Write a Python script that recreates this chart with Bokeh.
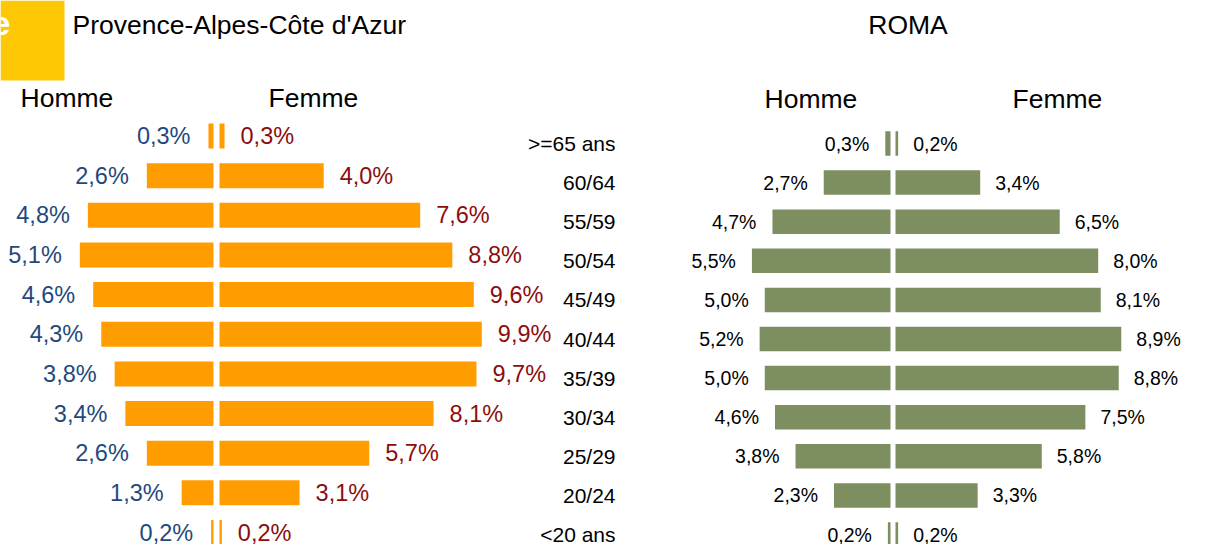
from bokeh.plotting import figure
from bokeh.models import Range1d, ColumnDataSource, Label, Span, BoxAnnotation
from bokeh.core.properties import value
from bokeh.embed import file_html
from bokeh.resources import INLINE

# ---------------- data ----------------
ages = [">=65 ans", "60/64", "55/59", "50/54", "45/49", "40/44",
        "35/39", "30/34", "25/29", "20/24", "<20 ans"]
paca_homme = [0.3, 2.6, 4.8, 5.1, 4.6, 4.3, 3.8, 3.4, 2.6, 1.3, 0.2]
paca_femme = [0.3, 4.0, 7.6, 8.8, 9.6, 9.9, 9.7, 8.1, 5.7, 3.1, 0.2]
roma_homme = [0.3, 2.7, 4.7, 5.5, 5.0, 5.2, 5.0, 4.6, 3.8, 2.3, 0.2]
roma_femme = [0.2, 3.4, 6.5, 8.0, 8.1, 8.9, 8.8, 7.5, 5.8, 3.3, 0.2]
title_left = "Provence-Alpes-Côte d'Azur"
title_right = "ROMA"

# ---------------- layout ----------------
W, H = 1207, 544          # figure size
X0, Y0 = 0, 0             # reference pixel of figure origin
FNAME = "Liberation Sans"
FONT = value(FNAME)

ORANGE = "#FF9C00"
GREEN = "#7D8F60"
BLUE = "#1F497D"
RED = "#8B0E0E"


def pct_range(zero_ref, px_per_pct):
    zp = zero_ref - X0
    return Range1d(start=-zp / px_per_pct, end=(W - zp) / px_per_pct)


def row_range(first_ref, step):
    return Range1d(start=(Y0 + H - first_ref) / step, end=(Y0 - first_ref) / step)


p = figure(width=W, height=H, output_backend="svg", toolbar_location=None,
           x_range=Range1d(X0, X0 + W), y_range=Range1d(Y0 + H, Y0),
           min_border=0, x_axis_location=None, y_axis_location=None)
p.grid.visible = False
p.outline_line_color = None
p.background_fill_color = "white"
p.border_fill_color = "white"

p.extra_x_ranges = {"L": pct_range(216, 26.8), "R": pct_range(892.5, 25.65)}
p.extra_y_ranges = {"rowL": row_range(135.5, 39.65), "rowR": row_range(143, 39.1)}

idx = list(range(len(ages)))


def fmt(v):
    return f"{v:.1f}%".replace(".", ",")


def panel(hom, fem, xr, yr, color, hcol, fcol, fsize, hoff, foff, bh):
    src = ColumnDataSource(dict(
        y=idx,
        hl=[-v for v in hom], fr=fem,
        zero=[0] * len(idx),
        htxt=[fmt(v) for v in hom], ftxt=[fmt(v) for v in fem]))
    p.hbar(y="y", left="hl", right="zero", height=bh, source=src,
           fill_color=color, line_color=None, x_range_name=xr, y_range_name=yr)
    p.hbar(y="y", left="zero", right="fr", height=bh, source=src,
           fill_color=color, line_color=None, x_range_name=xr, y_range_name=yr)
    p.text(x="hl", y="y", text="htxt", source=src, x_offset=-hoff,
           text_align="right", text_baseline="middle", text_font=FONT,
           text_font_size=value(fsize), text_color=hcol,
           x_range_name=xr, y_range_name=yr)
    p.text(x="fr", y="y", text="ftxt", source=src, x_offset=foff,
           text_align="left", text_baseline="middle", text_font=FONT,
           text_font_size=value(fsize), text_color=fcol,
           x_range_name=xr, y_range_name=yr)


panel(paca_homme, paca_femme, "L", "rowL", ORANGE, BLUE, RED, "23.5px", 18, 16, 0.63)
panel(roma_homme, roma_femme, "R", "rowR", GREEN, "black", "black", "19.5px", 16, 15, 0.627)

# white gap between the two halves of each pyramid
p.add_layout(Span(location=0, dimension="height", line_color="white", line_width=6,
                  x_range_name="L"))
p.add_layout(Span(location=0, dimension="height", line_color="white", line_width=5,
                  x_range_name="R"))

# age labels
age_src = ColumnDataSource(dict(x=[615] * len(ages), y=idx, t=ages))
p.text(x="x", y="y", text="t", source=age_src, y_range_name="rowR",
       text_align="right", text_baseline="middle", text_font=FONT,
       text_font_size=value("21px"), text_color="black")

# yellow corner box
p.add_layout(BoxAnnotation(left=X0, right=64, top=Y0, bottom=80,
                           fill_color="#FFC805", fill_alpha=1, line_color=None))
p.add_layout(Label(x=10, y=23, text="e", text_align="right", text_baseline="middle",
                   text_font=FNAME, text_font_size="34px", text_font_style="bold",
                   text_color="white"))


# titles & headers
def lab(x, y, t, align, size="26.5px"):
    p.add_layout(Label(x=x, y=y, text=t, text_align=align, text_baseline="middle",
                       text_font=FNAME, text_font_size=size, text_color="black"))


lab(72, 24, title_left, "left")
lab(907.5, 24, title_right, "center")
lab(20, 97, "Homme", "left")
lab(268, 97, "Femme", "left")
lab(764, 98, "Homme", "left")
lab(1012, 98, "Femme", "left")

open("out.html", "w").write(file_html(p, INLINE))
